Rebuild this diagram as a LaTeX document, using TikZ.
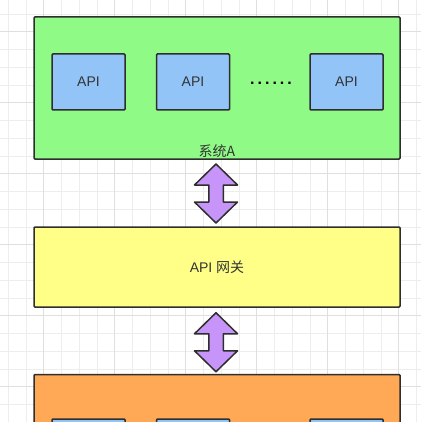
\documentclass[tikz,border=0pt]{standalone}
\usepackage{fontspec}
\setmainfont{Liberation Sans}
\newfontfamily\cjk{Noto Sans CJK SC}
\usetikzlibrary{calc}

\definecolor{linedark}{HTML}{2E2E2E}
\definecolor{textdark}{HTML}{333333}
\definecolor{sysgreen}{HTML}{90FA86}
\definecolor{gwyellow}{HTML}{FFFF88}
\definecolor{sysorange}{HTML}{FFA855}
\definecolor{apiblue}{HTML}{93C4F8}
\definecolor{linkpurple}{HTML}{C795FA}
\definecolor{gridminor}{HTML}{EDEDED}
\definecolor{gridmajor}{HTML}{DFDFDF}

\tikzset{
  system/.style={draw=linedark, line width=1.5pt, rounded corners=1pt,
    minimum width=366pt, inner sep=0pt, text=textdark,
    font=\fontsize{14}{16}\selectfont},
  api/.style={draw=linedark, line width=1.5pt, fill=apiblue, rounded corners=1pt,
    minimum width=73pt, minimum height=56pt, inner sep=0pt, text=textdark,
    font=\fontsize{14}{16}\selectfont},
  link/.pic={
    \filldraw[draw=linedark, fill=linkpurple, line width=1.5pt, line join=round]
      (0,-29.5) -- (21.5,-8.5) -- (7.25,-8.5) -- (7.25,8.5) -- (21.5,8.5)
      -- (0,29.5) -- (-21.5,8.5) -- (-7.25,8.5) -- (-7.25,-8.5)
      -- (-21.5,-8.5) -- cycle;
  },
}

\begin{document}
\begin{tikzpicture}[x=1pt,y=-1pt]
    \clip (0,0) rectangle (421,422);
    \fill[white] (0,0) rectangle (421,422);

    % Grid
    \foreach \k in {0,...,23} {
        \draw[gridminor, line width=0.8pt] (8.3+17.75*\k,0) -- (8.3+17.75*\k,422);
        \draw[gridminor, line width=0.8pt] (0,13.95+17.75*\k) -- (421,13.95+17.75*\k);
    }
    \foreach \k in {2,6,...,22}
        \draw[gridmajor, line width=0.8pt] (8.3+17.75*\k,0) -- (8.3+17.75*\k,422);
    \foreach \k in {1,5,...,21}
        \draw[gridmajor, line width=0.8pt] (0,13.95+17.75*\k) -- (421,13.95+17.75*\k);

    % System A
    \node[system, fill=sysgreen, minimum height=142pt] (sysA) at (217,88) {};
    \node[api] (apiA1) at (88.5,82) {API};
    \node[api] (apiA2) at (193,82) {API};
    \node[api] (apiA3) at (346.5,82) {API};
    \node[anchor=base, inner sep=0pt, font=\bfseries\fontsize{16}{16}\selectfont]
        (dotsA) at (271,85) {.\kern3pt.\kern3pt.\kern3pt.\kern3pt.\kern3pt.};
    \node[text=textdark, inner sep=0pt, font=\cjk\fontsize{14}{16}\selectfont]
        (sysAlabel) at (217,151) {系统A};

    % Gateway
    \node[system, fill=gwyellow, minimum height=80pt] (gw) at (217,267)
        {API {\cjk 网关}};

    % System below
    \node[system, fill=sysorange, minimum height=142pt] (sysB) at (217,445.5) {};
    \node[api] (apiB1) at (88.5,447) {};
    \node[api] (apiB2) at (193,447) {};
    \node[api] (apiB3) at (346.5,447) {};

    % Links
    \pic at ($(sysA.south)!0.5!(gw.north)+(-1,0.5)$) {link};
    \pic at ($(gw.south)!0.5!(sysB.north)+(-1,1.5)$) {link};
\end{tikzpicture}
\end{document}
